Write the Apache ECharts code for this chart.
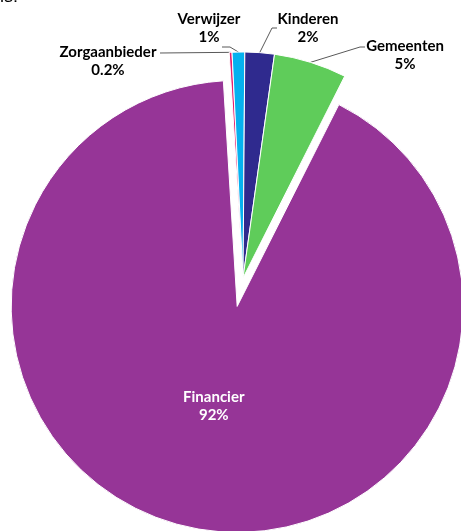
<!DOCTYPE html>
<html>
<head>
<meta charset="utf-8">
<script src="https://cdn.jsdelivr.net/npm/echarts@6/dist/echarts.min.js"></script>
<style>
html,body{margin:0;padding:0;background:#fff;}
#chart{width:461px;height:531px;}
</style>
</head>
<body>
<div id="chart"></div>
<script>
// ---- data ----
var categories = ['Zorgaanbieder', 'Verwijzer', 'Kinderen', 'Gemeenten', 'Financier'];
var values = [0.2, 0.9, 2.1, 5.2, 91.6];
var explodedCategory = 'Financier';

// ---- styling / layout (not data) ----
var colors = {
  'Zorgaanbieder': '#e5206f',
  'Verwijzer': '#05b1ef',
  'Kinderen': '#2f2a8e',
  'Gemeenten': '#5fcc5a',
  'Financier': '#963597'
};
// label block centres and leader line bends for outside labels
var labelLayoutCfg = {
  'Zorgaanbieder': { x: 108, y: 61, bend: [160, 53], end: [160, 53] },
  'Verwijzer':     { x: 209, y: 28, bend: [230, 47], end: [222, 47] },
  'Kinderen':      { x: 308, y: 28, bend: [272, 28], end: [277, 28] },
  'Gemeenten':     { x: 405, y: 55, bend: [360, 47], end: [365, 47] }
};

var chart = echarts.init(document.getElementById('chart'), null, { renderer: 'canvas' });

var data = categories.map(function (c, i) {
  var item = { name: c, value: values[i], itemStyle: { color: colors[c] } };
  if (c === explodedCategory) {
    item.selected = true;
    item.label = { position: 'inside', color: '#ffffff' };
    item.labelLine = { show: false };
  }
  return item;
});

function fmtPct(p) {
  return (p < 0.5 ? p.toFixed(1) : Math.round(p)) + '%';
}

chart.setOption({
  animation: false,
  graphic: [{
    type: 'text', left: 0, top: -12,
    style: { text: 'ls:', font: '18px "Liberation Sans"', fill: '#000' }
  }],
  series: [{
    type: 'pie',
    center: [243, 278],
    radius: [0, 226],
    startAngle: 93.5,
    clockwise: true,
    selectedMode: 'single',
    selectedOffset: 29,
    avoidLabelOverlap: false,
    itemStyle: { borderColor: '#ffffff', borderWidth: 1 },
    label: {
      show: true,
      position: 'outside',
      fontFamily: 'Lato',
      fontWeight: 'bold',
      fontSize: 15,
      lineHeight: 18,
      color: '#000000',
      formatter: function (p) { return p.name + '\n' + fmtPct(p.percent); }
    },
    labelLine: {
      show: true,
      length: 10,
      length2: 10,
      lineStyle: { color: '#595959', width: 1 }
    },
    emphasis: { disabled: true },
    labelLayout: function (params) {
      var name = categories[params.dataIndex];
      var cfg = labelLayoutCfg[name];
      if (!cfg) return { dy: -14 };
      var start = params.labelLinePoints ? params.labelLinePoints[0] : cfg.bend;
      return {
        x: cfg.x,
        y: cfg.y,
        align: 'center',
        verticalAlign: 'middle',
        labelLinePoints: [start, cfg.bend, cfg.end]
      };
    },
    data: data
  }]
});
</script>
</body>
</html>
